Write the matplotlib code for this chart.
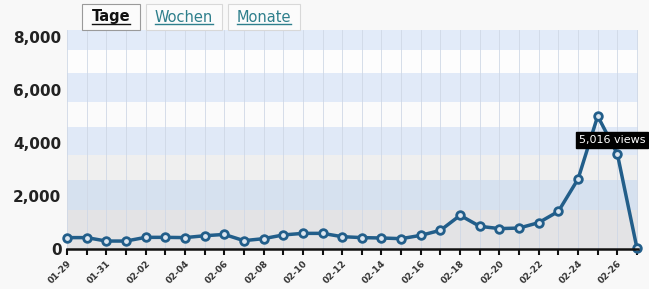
import matplotlib
matplotlib.use("Agg")
import matplotlib.pyplot as plt
from matplotlib.patches import Rectangle
import numpy as np

dates = ["01-29", "01-30", "01-31", "02-01", "02-02", "02-03", "02-04", "02-05",
         "02-06", "02-07", "02-08", "02-09", "02-10", "02-11", "02-12", "02-13",
         "02-14", "02-15", "02-16", "02-17", "02-18", "02-19", "02-20", "02-21",
         "02-22", "02-23", "02-24", "02-25", "02-26", "02-27"]
views = [430, 430, 300, 300, 440, 440, 430, 500, 550, 315, 390, 530, 590, 590,
         465, 430, 415, 390, 515, 705, 1270, 855, 770, 790, 995, 1420, 2640,
         5016, 3585, 20]
yticks = [0, 2000, 4000, 6000, 8000]
ytick_labels = ["0", "2,000", "4,000", "6,000", "8,000"]
tabs = ["Tage", "Wochen", "Monate"]
tooltip = "5,016 views"

band_edges = [0, 1480, 2600, 3560, 4600, 5550, 6650, 7500, 8300]
band_colors = ["#e3e3e5", "#d6e1ef", "#efefef", "#e0e9f7", "#fbfbfb",
               "#e1eaf8", "#fdfdfd", "#e2ebf9"]

fig = plt.figure(figsize=(6.49, 2.89), dpi=100, facecolor="#f8f8f8")
ax = fig.add_axes([67/649, 1-249/289, (638-67)/649, (249-30)/289])
ax.set_facecolor("#f8f8f8")

x = np.arange(len(dates))
for i in range(len(band_colors)):
    ax.axhspan(band_edges[i], band_edges[i+1], color=band_colors[i], lw=0, zorder=0)
for xi in x:
    ax.axvline(xi, color="#cfd8e6", lw=0.6, zorder=1)

ax.plot(x, views, color="#225e8a", lw=2.5, marker="o", ms=5.5,
        mfc="#dce6f0", mec="#225e8a", mew=2.0, zorder=3, clip_on=False)

ax.set_xlim(0, 29.05)
ax.set_ylim(0, 8264)
ax.set_yticks(yticks)
ax.set_yticklabels(ytick_labels, fontsize=11, fontweight="bold", color="#222222")
ax.tick_params(axis="y", length=0, pad=4)
ax.set_xticks(x)
ax.set_xticklabels([d if i % 2 == 0 else "" for i, d in enumerate(dates)],
                   rotation=45, ha="right", rotation_mode="anchor",
                   fontsize=6.5, fontweight="bold", color="#333333")
ax.tick_params(axis="x", length=4, width=1.5, color="#111111", pad=3, direction="out")
for s in ["top", "right", "left"]:
    ax.spines[s].set_visible(False)
ax.spines["bottom"].set_color("#111111")
ax.spines["bottom"].set_linewidth(1.8)
ax.spines["bottom"].set_zorder(4)

# tooltip
fig.text(612/649, 1-140/289, tooltip, ha="center", va="center", color="white",
         fontsize=8, family="DejaVu Sans",
         bbox=dict(boxstyle="square,pad=0.25", fc="black", ec="black"))

# tabs
tab_boxes = [(82, 140), (146, 222), (228, 300)]
renderer = fig.canvas.get_renderer()
for (x0, x1), t in zip(tab_boxes, tabs):
    bold = t == "Tage"
    fig.patches.append(Rectangle((x0/649, 1-30/289), (x1-x0)/649, 26/289,
                                 transform=fig.transFigure, fc="#fbfbfb",
                                 ec="#9a9a9a" if bold else "#d8d8d8", lw=0.8, zorder=0))
    col = "#111111" if bold else "#2e7f8c"
    txt = fig.text((x0+x1)/2/649, 1-17/289, t, ha="center", va="center",
                   fontsize=10.5, fontweight="bold" if bold else "normal", color=col)
    bb = txt.get_window_extent(renderer=renderer)
    fig.add_artist(plt.Line2D([bb.x0/649, bb.x1/649], [1-24/289, 1-24/289],
                              transform=fig.transFigure, color=col, lw=1.0))

fig.savefig("out.png", dpi=100, facecolor=fig.get_facecolor())
